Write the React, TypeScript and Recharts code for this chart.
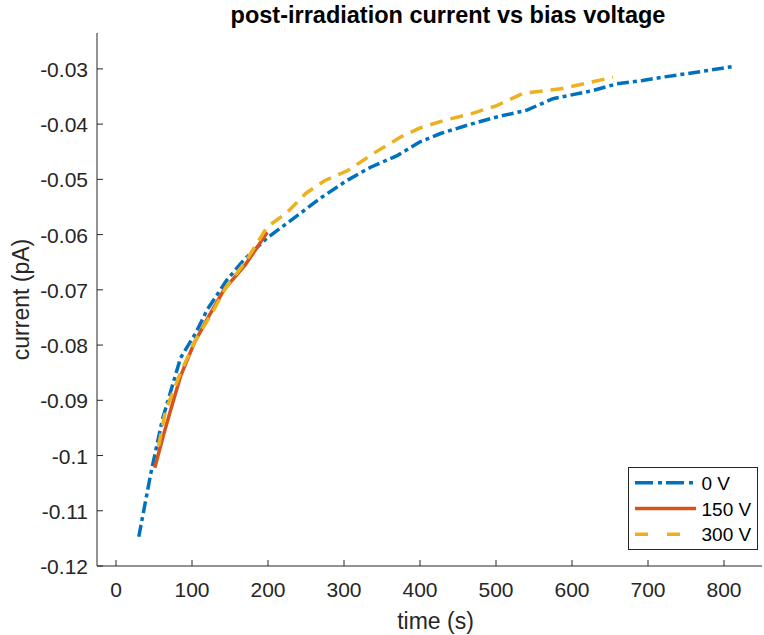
import React from 'react';
import { LineChart, Line, XAxis, YAxis, Legend, Customized } from 'recharts';

// 0 V
const time0 = [30, 46, 61, 85, 105, 120, 146, 168, 199, 243, 269, 304, 335, 370, 400, 427, 462, 501, 540, 575, 628, 659, 693, 719, 764, 810];
const current0 = [-0.1147, -0.1031, -0.0935, -0.0823, -0.0778, -0.0736, -0.0682, -0.0646, -0.0606, -0.0561, -0.0534, -0.0502, -0.0478, -0.0457, -0.0432, -0.0417, -0.0402, -0.0387, -0.0375, -0.0354, -0.0339, -0.0327, -0.0321, -0.0315, -0.0306, -0.0296];

// 150 V
const time150 = [51, 62, 72, 85, 103, 122, 142, 170, 199];
const current150 = [-0.1022, -0.0965, -0.0917, -0.0856, -0.0796, -0.0748, -0.07, -0.0655, -0.0596];

// 300 V
const time300 = [56, 65, 85, 105, 125, 145, 170, 199, 225, 250, 275, 305, 340, 375, 400, 430, 470, 500, 536, 550, 585, 625, 654];
const current300 = [-0.0983, -0.092, -0.085, -0.079, -0.0745, -0.0695, -0.065, -0.0586, -0.056, -0.0525, -0.0502, -0.0484, -0.0452, -0.0423, -0.0407, -0.0394, -0.038, -0.0367, -0.0344, -0.0342, -0.0336, -0.0324, -0.0315];

const xTicks = [0, 100, 200, 300, 400, 500, 600, 700, 800];
const yTicks = [-0.12, -0.11, -0.1, -0.09, -0.08, -0.07, -0.06, -0.05, -0.04, -0.03];

const toPoints = (t: number[], c: number[]) => t.map((x, i) => ({ t: x, c: c[i] }));

const series = [
  { name: '0 V', data: toPoints(time0, current0), color: '#0072BD', dash: '12 4 4 4' },
  { name: '150 V', data: toPoints(time150, current150), color: '#D95319', dash: undefined },
  { name: '300 V', data: toPoints(time300, current300), color: '#EDB120', dash: '13 8' },
];

const W = 764;
const H = 635;
const LEFT = 97;
const TOP = 33;
const RIGHT = 762;
const BOTTOM = 566;
const FONT = '"Liberation Sans", Arial, sans-serif';
const INK = '#262626';

const fmtY = (v: number) => String(Number(v.toFixed(2)));

const XTick = (props: any) => {
  const { x, payload } = props;
  return (
    <g>
      <line x1={x} x2={x} y1={BOTTOM} y2={BOTTOM - 6} stroke={INK} strokeWidth={1} />
      <text x={x} y={597} textAnchor="middle" fontSize={21} fill={INK} fontFamily={FONT}>
        {payload.value}
      </text>
    </g>
  );
};

const YTick = (props: any) => {
  const { y, payload } = props;
  return (
    <g>
      <line x1={LEFT} x2={LEFT + 6} y1={y} y2={y} stroke={INK} strokeWidth={1} />
      <text x={88} y={y + 8} textAnchor="end" fontSize={21} fill={INK} fontFamily={FONT}>
        {fmtY(payload.value)}
      </text>
    </g>
  );
};

const LegendBox = () => (
  <svg width={131} height={84} style={{ display: 'block' }}>
    <rect x={0.5} y={0.5} width={129} height={82} fill="#fff" stroke={INK} strokeWidth={1} />
    {series.map((s, i) => (
      <g key={s.name}>
        <line
          x1={7}
          x2={68}
          y1={15.7 + i * 25.8}
          y2={15.7 + i * 25.8}
          stroke={s.color}
          strokeWidth={3.5}
          strokeDasharray={i === 0 ? '18 5 4 4' : i === 2 ? '13 19' : undefined}
        />
        <text x={73.5} y={23 + i * 25.5} fontSize={19} fill="#000" fontFamily={FONT}>
          {s.name}
        </text>
      </g>
    ))}
  </svg>
);

const Labels = () => (
  <g fontFamily={FONT}>
    <text x={448} y={23} textAnchor="middle" fontSize={23.5} fontWeight="bold" fill="#000">
      post-irradiation current vs bias voltage
    </text>
    <text x={(LEFT + RIGHT) / 2 + 6} y={629} textAnchor="middle" fontSize={23} fill={INK}>
      time (s)
    </text>
    <text
      x={0}
      y={0}
      transform={`translate(29, ${(TOP + BOTTOM) / 2}) rotate(-90)`}
      textAnchor="middle"
      fontSize={23}
      fill={INK}
    >
      current (pA)
    </text>
  </g>
);

export default function App() {
  return (
    <div style={{ position: 'absolute', left: 0, top: 0, width: W, height: H, background: '#fff' }}>
      <LineChart
        width={W}
        height={H}
        margin={{ top: TOP, right: W - RIGHT, bottom: 0, left: 0 }}
      >
        <XAxis
          type="number"
          dataKey="t"
          domain={[-25, 850]}
          ticks={xTicks}
          allowDataOverflow
          height={H - BOTTOM}
          axisLine={{ stroke: INK, strokeWidth: 1 }}
          tickLine={false}
          tickSize={0}
          tick={<XTick />}
          interval={0}
        />
        <YAxis
          type="number"
          dataKey="c"
          domain={[-0.12, -0.0235]}
          ticks={yTicks}
          allowDataOverflow
          width={LEFT}
          axisLine={{ stroke: INK, strokeWidth: 1 }}
          tickLine={false}
          tickSize={0}
          tick={<YTick />}
          interval={0}
        />
        {series.map((s) => (
          <Line
            key={s.name}
            name={s.name}
            data={s.data}
            dataKey="c"
            type="linear"
            stroke={s.color}
            strokeWidth={3.5}
            strokeDasharray={s.dash}
            dot={false}
            activeDot={false}
            isAnimationActive={false}
          />
        ))}
        <Legend
          layout="vertical"
          align="center"
          verticalAlign="middle"
          content={<LegendBox />}
          wrapperStyle={{ left: 628, top: 467, width: 131, height: 84 }}
        />
        <Customized component={<Labels />} />
      </LineChart>
    </div>
  );
}
